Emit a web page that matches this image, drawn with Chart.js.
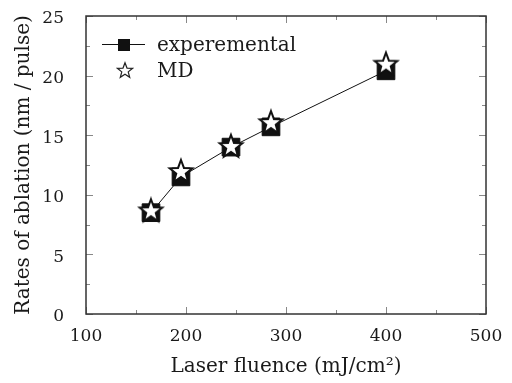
<!DOCTYPE html>
<html>
<head>
<meta charset="utf-8">
<title>Ablation rates</title>
<script src="https://cdn.jsdelivr.net/npm/chart.js@4.4.1/dist/chart.umd.min.js"></script>
<style>
  body { margin: 0; background: #fff; }
  .wrap { position: relative; width: 512px; height: 383px; }
  .legend { position: absolute; left: 100px; top: 31px; font-family: "DejaVu Serif", serif; font-size: 20px; color: #1a1a1a; }
  .legend .row { display: flex; align-items: center; height: 26px; }
  .legend .sample { position: relative; width: 46px; height: 20px; margin-right: 11px; }
  .legend .line { position: absolute; left: 2px; right: 1px; top: 10px; border-top: 1px solid #111; }
  .legend .sq { position: absolute; left: 18px; top: 5px; width: 12px; height: 12px; background: #111; }
  .legend svg { position: absolute; left: 16px; top: 1px; }
</style>
</head>
<body>
<div class="wrap">
  <canvas id="myChart" width="512" height="383"></canvas>
  <div class="legend">
    <div class="row"><div class="sample"><div class="line"></div><div class="sq"></div></div>experemental</div>
    <div class="row"><div class="sample"><svg width="18" height="18" viewBox="-9 -9 18 18"><polygon id="legStar" fill="#fff" stroke="#222" stroke-width="1.2"/></svg></div>MD</div>
  </div>
</div>
<script>
  // fluence in mJ/cm^2, rates in nm / pulse
  const fluence = [165, 195, 245, 285, 400];
  const experimental = [8.5, 11.5, 14.0, 15.7, 20.4];
  const md = [8.7, 12.0, 14.1, 16.1, 21.0];

  const xTicks = [100, 200, 300, 400, 500];
  const yTicks = [0, 5, 10, 15, 20, 25];

  function starPoints(r, inner) {
    const pts = [];
    for (let i = 0; i < 10; i++) {
      const rad = i % 2 === 0 ? r : inner;
      const a = -Math.PI / 2 + i * Math.PI / 5;
      pts.push([rad * Math.cos(a), rad * Math.sin(a)]);
    }
    return pts;
  }

  document.getElementById('legStar').setAttribute('points',
    starPoints(8, 3.4).map(p => p[0].toFixed(2) + ',' + (p[1] + 0.8).toFixed(2)).join(' '));

  // five-pointed star used as point style for MD
  const starImg = document.createElement('canvas');
  starImg.width = 28; starImg.height = 28;
  (function () {
    const c = starImg.getContext('2d');
    c.translate(14, 15);
    c.beginPath();
    starPoints(12, 5).forEach((p, i) => i ? c.lineTo(p[0], p[1]) : c.moveTo(p[0], p[1]));
    c.closePath();
    c.fillStyle = '#fff';
    c.fill();
    c.lineWidth = 2;
    c.strokeStyle = '#111';
    c.stroke();
  })();

  const frameTicks = {
    id: 'frameTicks',
    afterDatasetsDraw(chart) {
      const { ctx, chartArea: a, scales: { x, y } } = chart;
      ctx.save();
      ctx.strokeStyle = '#888';
      ctx.lineWidth = 1;
      for (let v = 100; v <= 500; v += 50) {
        const px = Math.round(x.getPixelForValue(v)) + 0.5;
        const len = v % 100 === 0 ? 7 : 4;
        ctx.beginPath();
        ctx.moveTo(px, a.bottom); ctx.lineTo(px, a.bottom - len);
        ctx.moveTo(px, a.top); ctx.lineTo(px, a.top + len);
        ctx.stroke();
      }
      for (let v = 0; v <= 25; v += 2.5) {
        const py = Math.round(y.getPixelForValue(v)) + 0.5;
        const len = v % 5 === 0 ? 7 : 4;
        ctx.beginPath();
        ctx.moveTo(a.left, py); ctx.lineTo(a.left + len, py);
        ctx.moveTo(a.right, py); ctx.lineTo(a.right - len, py);
        ctx.stroke();
      }
      ctx.strokeStyle = '#333';
      ctx.lineWidth = 1.5;
      ctx.strokeRect(a.left, a.top, a.right - a.left, a.bottom - a.top);
      ctx.restore();
    }
  };

  const tickFont = { family: 'DejaVu Serif', size: 17 };
  const titleFont = { family: 'DejaVu Serif', size: 20 };

  new Chart(document.getElementById('myChart'), {
    type: 'scatter',
    data: {
      datasets: [{
        label: 'MD',
        data: fluence.map((f, i) => ({ x: f, y: md[i] })),
        pointStyle: starImg,
        showLine: false,
        order: 0
      }, {
        label: 'experemental',
        data: fluence.map((f, i) => ({ x: f, y: experimental[i] })),
        pointStyle: 'rect',
        pointRadius: 12.5,
        backgroundColor: '#111',
        borderColor: '#111',
        borderWidth: 1,
        showLine: true,
        order: 1
      }]
    },
    options: {
      responsive: false,
      animation: false,
      layout: { padding: { left: 0, right: 26, top: 16, bottom: 0 } },
      plugins: { legend: { display: false }, tooltip: { enabled: false } },
      scales: {
        x: {
          type: 'linear', min: 100, max: 500,
          afterBuildTicks: s => { s.ticks = xTicks.map(v => ({ value: v })); },
          afterFit: s => { s.height = 69; },
          grid: { display: false }, border: { display: false },
          ticks: { font: tickFont, color: '#1a1a1a', padding: 4, maxRotation: 0 },
          title: { display: true, text: 'Laser fluence (mJ/cm\u00B2)', font: titleFont, color: '#1a1a1a', padding: { top: 8 } }
        },
        y: {
          type: 'linear', min: 0, max: 25,
          afterBuildTicks: s => { s.ticks = yTicks.map(v => ({ value: v })); },
          afterFit: s => { s.width = 86; s.paddingTop = 0; s.paddingBottom = 0; },
          grid: { display: false }, border: { display: false },
          ticks: { font: tickFont, color: '#1a1a1a', padding: 14, labelOffset: 3 },
          title: { display: true, text: 'Rates of ablation (nm / pulse)', font: titleFont, color: '#1a1a1a', padding: { top: 12, bottom: 2 } }
        }
      }
    },
    plugins: [frameTicks]
  });
</script>
</body>
</html>
